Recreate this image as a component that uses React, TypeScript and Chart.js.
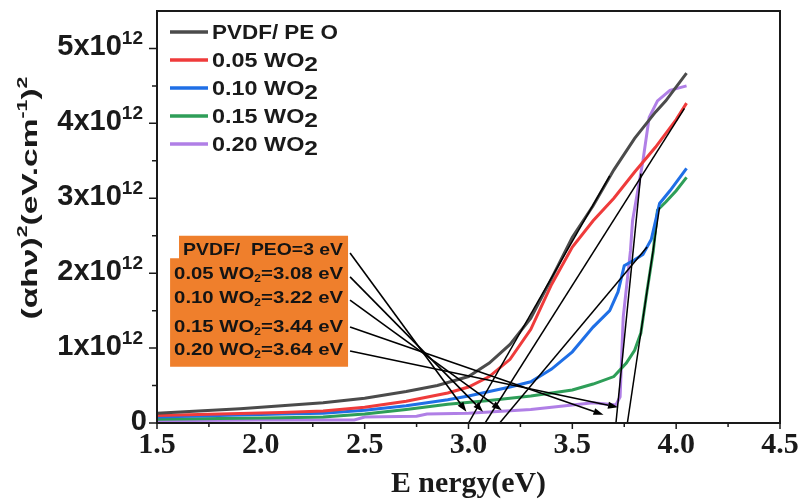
import React, { useEffect, useRef } from 'react';
import { Chart, registerables } from 'chart.js';

Chart.register(...registerables);

// ---------- data (values in units of 10^12) ----------
const SERIES_NAMES = ['PVDF/ PE O', '0.05 WO', '0.10 WO', '0.15 WO', '0.20 WO'];
const SERIES_SUB = ['', '2', '2', '2', '2'];
const SERIES_COLORS = ['#4b4b4b', '#ef3b3b', '#1f6fe6', '#2e9e58', '#b07fe6'];

const pvdfEnergy = [1.5, 1.7, 1.9, 2.1, 2.3, 2.5, 2.7, 2.85, 3.0, 3.1, 3.2, 3.3, 3.4, 3.5, 3.6, 3.7, 3.8, 3.9, 3.95, 4.05];
const pvdfValue = [0.13, 0.16, 0.19, 0.23, 0.27, 0.33, 0.42, 0.5, 0.62, 0.8, 1.05, 1.4, 1.93, 2.48, 2.9, 3.38, 3.8, 4.15, 4.3, 4.67];

const wo05Energy = [1.5, 1.8, 2.1, 2.3, 2.5, 2.7, 2.9, 3.0, 3.1, 3.2, 3.3, 3.4, 3.5, 3.6, 3.7, 3.8, 3.9, 4.0, 4.05];
const wo05Value = [0.1, 0.12, 0.14, 0.16, 0.21, 0.29, 0.4, 0.48, 0.62, 0.85, 1.25, 1.85, 2.35, 2.7, 3.0, 3.35, 3.68, 4.05, 4.27];

const wo10Energy = [1.5, 1.8, 2.1, 2.3, 2.5, 2.7, 2.9, 3.0, 3.1, 3.2, 3.3, 3.4, 3.5, 3.6, 3.68, 3.72, 3.75, 3.8, 3.84, 3.88, 3.92, 3.97, 4.05];
const wo10Value = [0.08, 0.1, 0.12, 0.13, 0.17, 0.23, 0.31, 0.36, 0.42, 0.48, 0.55, 0.72, 0.95, 1.28, 1.5, 1.75, 2.1, 2.18, 2.25, 2.45, 2.93, 3.1, 3.4];

const wo15Energy = [1.5, 1.8, 2.1, 2.3, 2.5, 2.7, 2.9, 3.1, 3.3, 3.5, 3.6, 3.7, 3.76, 3.8, 3.83, 3.86, 3.89, 3.91, 3.95, 4.0, 4.05];
const wo15Value = [0.05, 0.06, 0.07, 0.08, 0.12, 0.18, 0.25, 0.3, 0.36, 0.44, 0.52, 0.62, 0.8, 0.97, 1.2, 1.77, 2.3, 2.84, 2.95, 3.1, 3.28];

const wo20Energy = [1.5, 2.0, 2.45, 2.5, 2.75, 2.8, 3.0, 3.3, 3.6, 3.71, 3.73, 3.745, 3.78, 3.79, 3.84, 3.87, 3.91, 3.97, 4.05];
const wo20Value = [0.03, 0.04, 0.04, 0.08, 0.09, 0.12, 0.13, 0.18, 0.27, 0.24, 0.35, 1.41, 2.3, 2.7, 3.5, 4.08, 4.3, 4.44, 4.5];

// linear extrapolation lines (per series): start on the energy axis, end point
const tangentStartE = [3.0, 3.08, 3.15, 3.765, 3.71];
const tangentEndE = [3.68, 4.04, 3.86, 3.92, 3.83];
const tangentEndV = [3.3, 4.2, 2.35, 2.88, 3.33];

// band-gap annotation
const gapLabelName = ['PVDF/  PEO', '0.05 WO', '0.10 WO', '0.15 WO', '0.20 WO'];
const gapLabelSub = ['', '2', '2', '2', '2'];
const gapLabelValue = ['=3 eV', '=3.08 eV', '=3.22 eV', '=3.44 eV', '=3.64 eV'];
const arrowFromV = [2.27, 1.95, 1.64, 1.28, 0.96];
const arrowToE = [2.99, 3.07, 3.16, 3.65, 3.72];
const arrowToV = [0.15, 0.15, 0.17, 0.11, 0.21];

const xTicks = [1.5, 2.0, 2.5, 3.0, 3.5, 4.0, 4.5];
const xMinorTicks = [1.75, 2.25, 2.75, 3.25, 3.75, 4.25];
const yTicks = [0, 1, 2, 3, 4, 5];
const yMinorTicks = [0.5, 1.5, 2.5, 3.5, 4.5];

const UNIT = 1e12;
const SANS = "'Liberation Sans', Arial, sans-serif";
const SERIF = "'Liberation Serif', 'Times New Roman', serif";

type Run = { t: string; size: number; dy?: number };

function drawRuns(
  ctx: CanvasRenderingContext2D,
  runs: Run[],
  x: number,
  y: number,
  family: string,
  align: 'left' | 'right' | 'center',
  targetW?: number
) {
  ctx.save();
  ctx.textAlign = 'left';
  ctx.textBaseline = 'alphabetic';
  let w = 0;
  const ws = runs.map((r) => {
    ctx.font = `bold ${r.size}px ${family}`;
    const m = ctx.measureText(r.t).width;
    w += m;
    return m;
  });
  const sx = targetW ? targetW / w : 1;
  ctx.translate(x, y);
  ctx.scale(sx, 1);
  let cx = align === 'right' ? -w : align === 'center' ? -w / 2 : 0;
  runs.forEach((r, i) => {
    ctx.font = `bold ${r.size}px ${family}`;
    ctx.fillText(r.t, cx, r.dy || 0);
    cx += ws[i];
  });
  ctx.restore();
}

const decorPlugin = {
  id: 'decor',
  afterDatasetsDraw(chart: any) {
    const { ctx, chartArea: a, scales } = chart;
    const xs = scales.x;
    const ys = scales.y;
    const X = (v: number) => xs.getPixelForValue(v);
    const Y = (v: number) => ys.getPixelForValue(v * UNIT);
    ctx.save();

    // frame
    ctx.strokeStyle = '#1a1a1a';
    ctx.lineWidth = 2;
    ctx.strokeRect(a.left, a.top, a.right - a.left, a.bottom - a.top);

    // ticks
    ctx.lineWidth = 1.5;
    ctx.beginPath();
    xTicks.forEach((v) => { const p = X(v); ctx.moveTo(p, a.bottom); ctx.lineTo(p, a.bottom + 6); });
    xMinorTicks.forEach((v) => { const p = X(v); ctx.moveTo(p, a.bottom); ctx.lineTo(p, a.bottom + 4); });
    yTicks.forEach((v) => { const p = Y(v); ctx.moveTo(a.left, p); ctx.lineTo(a.left - 8, p); });
    yMinorTicks.forEach((v) => { const p = Y(v); ctx.moveTo(a.left, p); ctx.lineTo(a.left - 5, p); });
    ctx.stroke();

    ctx.fillStyle = '#1a1a1a';
    // x tick labels
    xTicks.forEach((v) => {
      drawRuns(ctx, [{ t: v.toFixed(1), size: 30 }], X(v), a.bottom + 30, SERIF, 'center');
    });
    // y tick labels
    yTicks.forEach((v) => {
      const p = Y(v);
      if (v === 0) {
        drawRuns(ctx, [{ t: '0', size: 29 }], a.left - 10, p + 7, SANS, 'right');
      } else {
        drawRuns(ctx, [{ t: `${v}x10`, size: 29, dy: 7 }, { t: '12', size: 19, dy: -4 }], a.left - 14, p, SANS, 'right');
      }
    });

    // x title
    drawRuns(ctx, [{ t: 'E nergy(eV)', size: 29 }], (a.left + a.right) / 2, 492, SERIF, 'center', 155);

    // y title (rotated)
    ctx.save();
    ctx.translate(37, 198);
    ctx.rotate(-Math.PI / 2);
    drawRuns(ctx, [
      { t: '(\u03b1h\u03bd)', size: 22 },
      { t: '2', size: 14, dy: -10 },
      { t: '(eV.cm', size: 22 },
      { t: '-1', size: 14, dy: -10 },
      { t: ')', size: 22 },
      { t: '2', size: 14, dy: -10 },
    ], 0, 0, SANS, 'center', 243);
    ctx.restore();

    // legend
    SERIES_NAMES.forEach((name, i) => {
      const ry = a.top + 21 + i * 28;
      ctx.strokeStyle = SERIES_COLORS[i];
      ctx.lineWidth = 3.5;
      ctx.beginPath();
      ctx.moveTo(a.left + 13, ry);
      ctx.lineTo(a.left + 51, ry);
      ctx.stroke();
      ctx.fillStyle = '#1a1a1a';
      const runs: Run[] = [{ t: name, size: 20 }];
      if (SERIES_SUB[i]) runs.push({ t: SERIES_SUB[i], size: 21, dy: 4 });
      drawRuns(ctx, runs, a.left + 55, ry + 7, SANS, 'left', i === 0 ? 126 : 106);
    });

    // annotation box (orange, with notch top-left)
    const bl = X(1.563), bn = X(1.606), br = X(2.42);
    const bt = Y(2.5), bm = Y(2.2), bb = Y(0.75);
    ctx.fillStyle = '#ef7f2c';
    ctx.beginPath();
    ctx.moveTo(bn, bt);
    ctx.lineTo(br, bt);
    ctx.lineTo(br, bb);
    ctx.lineTo(bl, bb);
    ctx.lineTo(bl, bm);
    ctx.lineTo(bn, bm);
    ctx.closePath();
    ctx.fill();

    const rowBase = [255, 279, 303, 332, 355];
    ctx.fillStyle = '#141414';
    gapLabelName.forEach((name, i) => {
      const runs: Run[] = [{ t: name, size: 17 }];
      if (gapLabelSub[i]) runs.push({ t: gapLabelSub[i], size: 10, dy: 3 });
      runs.push({ t: gapLabelValue[i], size: 17 });
      const left = i === 0 ? bn + 4 : bl + 4;
      drawRuns(ctx, runs, left, rowBase[i] - 423 + a.bottom, SANS, 'left', br - 5 - left);
    });

    // arrows
    ctx.strokeStyle = '#000';
    ctx.fillStyle = '#000';
    ctx.lineWidth = 1.6;
    arrowFromV.forEach((fv, i) => {
      const x0 = br + 2, y0 = Y(fv);
      const x1 = X(arrowToE[i]), y1 = Y(arrowToV[i]);
      const ang = Math.atan2(y1 - y0, x1 - x0);
      const L = 10, W = 3.5;
      ctx.beginPath();
      ctx.moveTo(x0, y0);
      ctx.lineTo(x1 - L * Math.cos(ang), y1 - L * Math.sin(ang));
      ctx.stroke();
      ctx.beginPath();
      ctx.moveTo(x1, y1);
      ctx.lineTo(x1 - L * Math.cos(ang) - W * Math.sin(ang), y1 - L * Math.sin(ang) + W * Math.cos(ang));
      ctx.lineTo(x1 - L * Math.cos(ang) + W * Math.sin(ang), y1 - L * Math.sin(ang) - W * Math.cos(ang));
      ctx.closePath();
      ctx.fill();
    });

    ctx.restore();
  },
};

const seriesEnergy = [pvdfEnergy, wo05Energy, wo10Energy, wo15Energy, wo20Energy];
const seriesValue = [pvdfValue, wo05Value, wo10Value, wo15Value, wo20Value];

function buildDatasets() {
  const curves = seriesEnergy.map((es, i) => ({
    label: SERIES_NAMES[i] + SERIES_SUB[i],
    data: es.map((e, j) => ({ x: e, y: seriesValue[i][j] * UNIT })),
    borderColor: SERIES_COLORS[i],
    backgroundColor: SERIES_COLORS[i],
    borderWidth: 3,
    pointRadius: 0,
    tension: 0,
    fill: false,
    order: 2,
  }));
  const tangents = tangentStartE.map((s, i) => ({
    label: 'fit ' + i,
    data: [
      { x: s, y: 0 },
      { x: tangentEndE[i], y: tangentEndV[i] * UNIT },
    ],
    borderColor: '#000',
    borderWidth: 1.5,
    pointRadius: 0,
    tension: 0,
    fill: false,
    order: 1,
  }));
  return [...curves, ...tangents];
}

export default function App() {
  const ref = useRef<HTMLCanvasElement>(null);
  useEffect(() => {
    document.body.style.margin = '0';
    const chart = new Chart(ref.current as HTMLCanvasElement, {
      type: 'line',
      data: { datasets: buildDatasets() as any },
      options: {
        responsive: false,
        animation: false,
        devicePixelRatio: 1,
        layout: { padding: { top: 11, right: 20, left: 0, bottom: 0 } },
        plugins: { legend: { display: false }, tooltip: { enabled: false } },
        scales: {
          x: {
            type: 'linear',
            min: 1.5,
            max: 4.5,
            ticks: { display: false },
            grid: { display: false },
            border: { display: false },
            afterFit: (s: any) => { s.height = 78; },
          },
          y: {
            type: 'linear',
            min: 0,
            max: 5.5 * UNIT,
            ticks: { display: false },
            grid: { display: false },
            border: { display: false },
            afterFit: (s: any) => { s.width = 157; },
          },
        },
      },
      plugins: [decorPlugin],
    });
    return () => chart.destroy();
  }, []);
  return (
    <div style={{ width: 800, height: 501, background: '#fff' }}>
      <canvas ref={ref} width={800} height={501} style={{ display: 'block' }} />
    </div>
  );
}
